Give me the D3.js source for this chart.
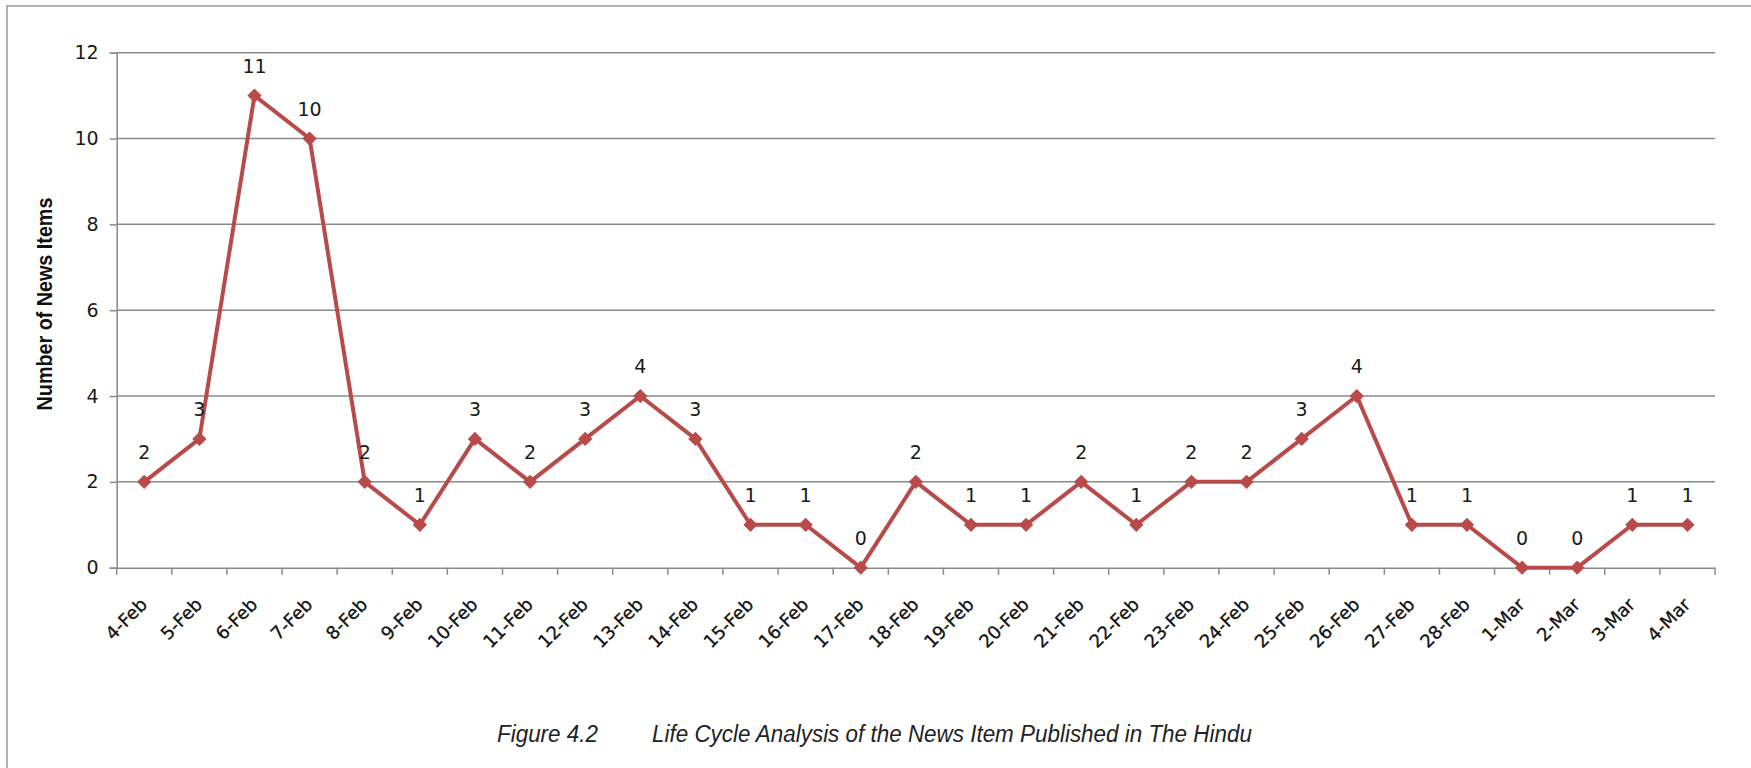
<!DOCTYPE html>
<html>
<head>
<meta charset="utf-8">
<script src="https://cdn.jsdelivr.net/npm/d3@7"></script>
<style>
  html, body { margin: 0; padding: 0; background: #fff; }
  svg { display: block; }
</style>
</head>
<body>
<svg id="chart"></svg>
<script>
const W = 1751;
const H = 768;

// data
const days = ['4-Feb', '5-Feb', '6-Feb', '7-Feb', '8-Feb', '9-Feb', '10-Feb', '11-Feb', '12-Feb',
              '13-Feb', '14-Feb', '15-Feb', '16-Feb', '17-Feb', '18-Feb', '19-Feb', '20-Feb',
              '21-Feb', '22-Feb', '23-Feb', '24-Feb', '25-Feb', '26-Feb', '27-Feb', '28-Feb',
              '1-Mar', '2-Mar', '3-Mar', '4-Mar'];
const newsItems = [2, 3, 11, 10, 2, 1, 3, 2, 3, 4, 3, 1, 1, 0, 2, 1, 1, 2, 1, 2, 2, 3, 4, 1, 1, 0, 0, 1, 1];
const yTicks = [0, 2, 4, 6, 8, 10, 12];

const yTitle = 'Number of News Items';
const figLabel = 'Figure 4.2';
const caption = 'Life Cycle Analysis of the News Item Published in The Hindu';

const plot = { left: 116.7, right: 1715, top: 52.7, bottom: 567.7 };
const lineColor = '#b84a4a';
const gridColor = '#8a8a8a';
const tickFont = 'DejaVu Sans, Verdana, sans-serif';

const svg = d3.select('#chart')
              .attr('width', W)
              .attr('height', H);

// outer frame (runs off the right and bottom edges)
svg.append('rect')
   .attr('x', 7)
   .attr('y', 6)
   .attr('width', W)
   .attr('height', H)
   .attr('fill', 'none')
   .attr('stroke', '#9a9a9a')
   .attr('stroke-width', 1.5);

const x = d3.scaleBand()
            .domain(days)
            .range([plot.left, plot.right]);

const y = d3.scaleLinear()
            .domain([0, 12])
            .range([plot.bottom, plot.top]);

// gridlines
svg.append('g')
   .selectAll('line')
   .data(yTicks.filter(d => d > 0))
   .enter()
   .append('line')
   .attr('x1', plot.left)
   .attr('x2', plot.right)
   .attr('y1', d => y(d))
   .attr('y2', d => y(d))
   .attr('stroke', gridColor)
   .attr('stroke-width', 1.5);

// y axis
const yAxis = d3.axisLeft(y)
                .tickValues(yTicks)
                .tickSize(7)
                .tickPadding(11);

const gy = svg.append('g')
              .attr('transform', `translate(${plot.left},0)`)
              .call(yAxis);
gy.select('.domain').attr('stroke', gridColor).attr('stroke-width', 1.5);
gy.selectAll('.tick line').attr('stroke', gridColor).attr('stroke-width', 1.5);
gy.selectAll('.tick text')
  .attr('font-family', tickFont)
  .attr('font-size', 19)
  .attr('fill', '#1a1a1a');

// x axis: ticks sit on category boundaries
const xAxis = d3.axisBottom(x).tickSize(0).tickFormat('');
const gx = svg.append('g')
              .attr('transform', `translate(0,${plot.bottom})`)
              .call(xAxis);
gx.select('.domain').attr('stroke', gridColor).attr('stroke-width', 1.5);

gx.selectAll('.boundary')
  .data(days.concat(['end']))
  .enter()
  .append('line')
  .attr('class', 'boundary')
  .attr('x1', (d, i) => plot.left + i * x.step())
  .attr('x2', (d, i) => plot.left + i * x.step())
  .attr('y1', 0)
  .attr('y2', 7)
  .attr('stroke', gridColor)
  .attr('stroke-width', 1.5);

svg.append('g')
   .selectAll('text')
   .data(days)
   .enter()
   .append('text')
   .attr('transform', d => `translate(${x(d) + x.bandwidth() / 2 + 4},${plot.bottom + 38}) rotate(-45)`)
   .attr('text-anchor', 'end')
   .attr('font-family', tickFont)
   .attr('font-size', 18)
   .attr('fill', '#111')
   .attr('stroke', '#111')
   .attr('stroke-width', 0.3)
   .text(d => d);

// series
const cx = (d, i) => x(days[i]) + x.bandwidth() / 2;

const line = d3.line()
               .x(cx)
               .y(d => y(d));

svg.append('path')
   .datum(newsItems)
   .attr('d', line)
   .attr('fill', 'none')
   .attr('stroke', lineColor)
   .attr('stroke-width', 4)
   .attr('stroke-linejoin', 'round');

svg.append('g')
   .selectAll('path')
   .data(newsItems)
   .enter()
   .append('path')
   .attr('d', d3.symbol().type(d3.symbolDiamond2).size(130))
   .attr('transform', (d, i) => `translate(${cx(d, i)},${y(d)})`)
   .attr('fill', lineColor);

svg.append('g')
   .selectAll('text')
   .data(newsItems)
   .enter()
   .append('text')
   .attr('x', cx)
   .attr('y', d => y(d) - 23)
   .attr('text-anchor', 'middle')
   .attr('font-family', tickFont)
   .attr('font-size', 19)
   .attr('fill', '#1a1a1a')
   .text(d => d);

// axis title, squeezed to the condensed look of the original
const t = svg.append('text')
   .attr('text-anchor', 'middle')
   .attr('font-family', 'Liberation Sans, Arial, sans-serif')
   .attr('font-weight', 'bold')
   .attr('font-size', 22)
   .attr('fill', '#111')
   .text(yTitle);
const tw = t.node().getComputedTextLength();
t.attr('transform', `translate(52,304) rotate(-90) scale(${213 / tw},1)`);

// caption, condensed the same way
const capFont = 'Liberation Sans, Arial, sans-serif';
const f1 = svg.append('text')
   .attr('font-family', capFont)
   .attr('font-style', 'italic')
   .attr('font-size', 24)
   .attr('fill', '#222')
   .text(figLabel);
const k = 101 / f1.node().getComputedTextLength();
f1.attr('transform', `translate(497,742) scale(${k},1)`);

svg.append('text')
   .attr('transform', `translate(652,742) scale(${k},1)`)
   .attr('font-family', capFont)
   .attr('font-style', 'italic')
   .attr('font-size', 24)
   .attr('fill', '#222')
   .text(caption);
</script>
</body>
</html>
